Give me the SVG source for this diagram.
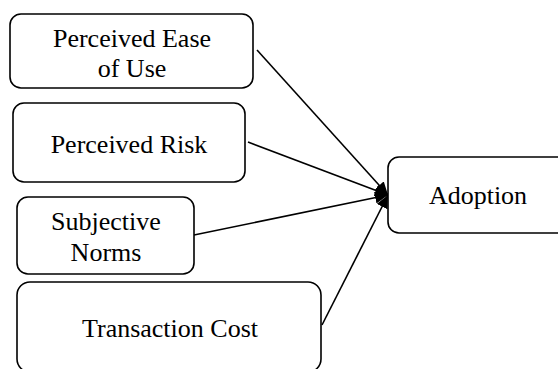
<svg xmlns="http://www.w3.org/2000/svg" width="558" height="369" viewBox="0 0 558 369">
<style>
.box{fill:#fff;stroke:#000;stroke-width:1.6}
.t{font-family:"Liberation Serif","Times New Roman",serif;font-size:26px;fill:#000;text-anchor:middle}
.c{stroke:#000;stroke-width:1.6;fill:none;marker-end:url(#ah)}
</style>
<defs>
<marker id="ah" markerUnits="userSpaceOnUse" markerWidth="14" markerHeight="12" refX="13" refY="6" orient="auto">
<path d="M0,0 L13,6 L0,12 Z" fill="#000"/>
</marker>
</defs>
<rect width="558" height="369" fill="#fff"/>
<g id="connectors">
<line class="c" x1="257" y1="50" x2="388" y2="195"/>
<line class="c" x1="248" y1="142" x2="388" y2="195"/>
<line class="c" x1="194" y1="235" x2="388" y2="195"/>
<line class="c" x1="322" y1="325" x2="388" y2="195"/>
</g>
<g id="peou">
<rect class="box" x="10" y="14" width="243" height="74" rx="11"/>
<text class="t" x="132" y="47">Perceived Ease</text>
<text class="t" x="132" y="77">of Use</text>
</g>
<g id="pr">
<rect class="box" x="13" y="103" width="232" height="79" rx="11"/>
<text class="t" x="129" y="153">Perceived Risk</text>
</g>
<g id="sn">
<rect class="box" x="17" y="197" width="177" height="77" rx="11"/>
<text class="t" x="106" y="230">Subjective</text>
<text class="t" x="106" y="261">Norms</text>
</g>
<g id="tc">
<rect class="box" x="17" y="282" width="304" height="90" rx="13"/>
<text class="t" x="170" y="337">Transaction Cost</text>
</g>
<g id="adoption">
<rect class="box" x="388" y="157" width="180" height="76" rx="11"/>
<text class="t" x="478" y="204">Adoption</text>
</g>
</svg>
